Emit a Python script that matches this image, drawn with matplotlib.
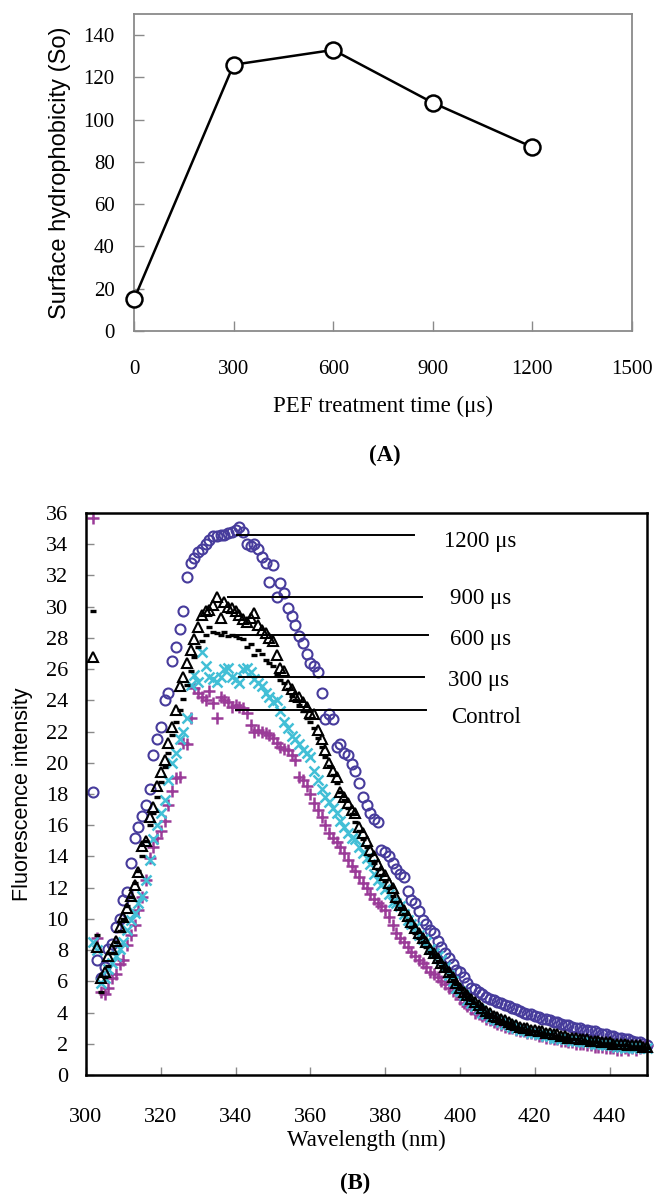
import numpy as np
import matplotlib
matplotlib.use("Agg")
import matplotlib.pyplot as plt

SERIF = "Liberation Serif"
SANS = "Liberation Sans"

# (A) surface hydrophobicity vs PEF treatment time
pef_time = [0, 300, 600, 900, 1200]
so_values = [15, 126, 133, 108, 87]

# (B) fluorescence spectra, one reading per nm from 302 to 450 nm
wavelength = np.arange(302, 451)

f_1200 = [18.1, 7.4, 6.2, 6.9, 8.1, 8.4, 9.5, 10.0, 11.2, 11.7,
          13.6, 15.2, 15.9, 16.6, 17.3, 18.3, 20.5, 21.5, 22.3, 24.0,
          24.5, 26.5, 27.4, 28.6, 29.7, 31.9, 32.8, 33.1, 33.5, 33.7,
          34.0, 34.3, 34.5, 34.5, 34.6, 34.6, 34.7, 34.8, 34.9, 35.1,
          34.8, 34.0, 33.9, 34.0, 33.7, 33.2, 32.8, 31.6, 32.7, 30.6,
          31.5, 30.9, 29.9, 29.4, 28.8, 28.1, 27.7, 27.0, 26.4, 26.2,
          25.8, 24.5, 22.8, 23.1, 22.8, 21.0, 21.2, 20.6, 20.5, 19.9,
          19.5, 18.7, 17.8, 17.3, 16.8, 16.4, 16.2, 14.4, 14.3, 14.0,
          13.6, 13.2, 12.9, 12.7, 11.8, 11.2, 11.0, 10.5, 9.9, 9.7,
          9.3, 9.1, 8.6, 8.2, 7.8, 7.5, 7.1, 6.7, 6.6, 6.3,
          5.9, 5.6, 5.5, 5.3, 5.2, 5.0, 4.9, 4.8, 4.7, 4.6,
          4.5, 4.4, 4.3, 4.2, 4.1, 4.0, 3.9, 3.9, 3.8, 3.7,
          3.6, 3.6, 3.5, 3.4, 3.4, 3.3, 3.2, 3.2, 3.1, 3.0,
          3.0, 2.9, 2.9, 2.8, 2.8, 2.7, 2.6, 2.6, 2.5, 2.5,
          2.4, 2.4, 2.3, 2.3, 2.2, 2.1, 2.1, 2.0, 1.9]

f_900 = [26.8, 8.2, 6.2, 6.6, 7.6, 8.1, 8.6, 9.5, 10.1, 10.7,
         11.5, 12.2, 13.0, 14.7, 15.0, 16.5, 17.2, 18.5, 19.4, 20.2,
         21.3, 22.3, 23.4, 24.9, 25.5, 26.4, 27.2, 27.9, 28.7, 29.5,
         29.7, 29.8, 30.1, 30.6, 29.3, 30.3, 30.0, 29.9, 29.7, 29.5,
         29.2, 29.0, 29.3, 29.6, 28.8, 28.5, 28.3, 28.0, 27.8, 26.9,
         26.1, 25.9, 25.0, 24.7, 24.3, 24.2, 23.9, 23.6, 23.2, 23.1,
         22.1, 21.5, 20.8, 20.0, 19.5, 19.1, 18.1, 17.8, 17.4, 17.0,
         16.8, 15.9, 15.5, 15.0, 14.4, 14.0, 13.5, 13.1, 12.8, 12.3,
         12.0, 11.4, 10.9, 10.6, 10.2, 9.8, 9.4, 9.1, 8.8, 8.5,
         8.1, 7.8, 7.5, 7.2, 6.9, 6.6, 6.3, 5.9, 5.6, 5.3,
         5.1, 4.9, 4.7, 4.5, 4.3, 4.1, 4.0, 3.8, 3.7, 3.6,
         3.5, 3.4, 3.3, 3.2, 3.1, 3.0, 3.0, 2.9, 2.9, 2.8,
         2.8, 2.7, 2.7, 2.6, 2.6, 2.5, 2.5, 2.4, 2.4, 2.4,
         2.3, 2.3, 2.3, 2.2, 2.2, 2.2, 2.1, 2.1, 2.1, 2.0,
         2.0, 2.0, 2.0, 1.9, 1.9, 1.9, 1.9, 1.8, 1.8]

f_600 = [29.7, 9.0, 5.3, 6.3, 7.0, 7.8, 8.5, 9.2, 10.0, 10.8,
         11.4, 12.3, 13.1, 14.0, 15.0, 16.0, 16.8, 17.8, 18.8, 19.7,
         20.6, 21.8, 22.6, 23.4, 24.1, 25.0, 25.9, 26.8, 27.4, 27.8,
         28.2, 28.7, 28.4, 28.3, 28.2, 28.4, 28.1, 28.2, 28.1, 28.0,
         27.9, 27.4, 27.6, 26.9, 27.2, 27.0, 26.6, 26.4, 26.2, 25.6,
         25.3, 25.1, 24.7, 24.3, 24.0, 23.7, 23.3, 22.9, 22.6, 22.2,
         21.6, 21.0, 20.4, 19.8, 19.2, 18.7, 18.1, 17.6, 17.1, 16.7,
         16.2, 15.6, 15.1, 14.6, 14.1, 13.6, 13.2, 12.8, 12.4, 12.0,
         11.5, 11.1, 10.7, 10.3, 9.9, 9.5, 9.1, 8.8, 8.5, 8.2,
         7.9, 7.6, 7.3, 7.0, 6.7, 6.4, 6.1, 5.8, 5.5, 5.2,
         5.0, 4.8, 4.6, 4.4, 4.2, 4.0, 3.9, 3.7, 3.6, 3.5,
         3.4, 3.3, 3.2, 3.1, 3.0, 2.9, 2.9, 2.8, 2.8, 2.7,
         2.7, 2.6, 2.6, 2.5, 2.5, 2.4, 2.4, 2.3, 2.3, 2.3,
         2.2, 2.2, 2.2, 2.1, 2.1, 2.1, 2.0, 2.0, 2.0, 2.0,
         1.9, 1.9, 1.9, 1.9, 1.8, 1.8, 1.8, 1.8, 1.7]

f_300 = [8.5, 8.0, 5.9, 6.2, 6.8, 7.2, 7.6, 8.1, 8.5, 9.3,
         9.9, 10.4, 11.0, 11.5, 12.5, 13.8, 15.1, 16.0, 16.8, 17.6,
         18.9, 20.0, 20.6, 21.5, 22.0, 22.9, 25.0, 25.6, 25.2, 27.1,
         26.2, 25.5, 25.4, 25.2, 25.5, 26.0, 26.1, 25.5, 25.4, 25.1,
         26.0, 26.1, 25.8, 25.4, 25.1, 24.9, 24.5, 24.2, 23.9, 24.0,
         23.3, 22.6, 22.2, 21.7, 21.5, 21.2, 20.8, 20.6, 20.4, 19.5,
         18.9, 18.3, 17.8, 17.5, 17.1, 16.8, 16.3, 15.9, 15.5, 15.2,
         15.1, 14.6, 14.2, 13.9, 13.5, 12.9, 12.5, 12.2, 11.9, 11.6,
         11.1, 11.0, 10.8, 10.3, 9.9, 9.7, 9.5, 9.0, 8.7, 8.5,
         8.1, 7.8, 7.6, 7.4, 6.9, 6.4, 6.0, 5.6, 5.4, 5.1,
         4.8, 4.6, 4.4, 4.2, 4.0, 3.9, 3.7, 3.6, 3.5, 3.4,
         3.3, 3.2, 3.1, 3.0, 2.9, 2.9, 2.8, 2.7, 2.7, 2.6,
         2.6, 2.5, 2.5, 2.4, 2.4, 2.3, 2.3, 2.3, 2.2, 2.2,
         2.2, 2.1, 2.1, 2.1, 2.0, 2.0, 2.0, 1.9, 1.9, 1.9,
         1.8, 1.8, 1.7, 1.8, 1.8, 1.7, 1.7, 1.8, 1.7]

f_control = [35.7, 8.8, 5.3, 5.2, 5.6, 6.2, 6.5, 7.1, 7.4, 8.3,
             9.0, 9.6, 10.6, 11.4, 12.5, 13.9, 14.6, 15.2, 15.6, 16.3,
             17.3, 18.2, 19.0, 19.1, 21.3, 21.2, 22.9, 24.8, 24.5, 24.2,
             24.0, 24.6, 23.8, 22.9, 24.2, 24.0, 23.9, 23.6, 23.7, 23.6,
             23.5, 23.2, 22.4, 22.0, 22.1, 22.0, 21.9, 21.8, 21.6, 21.3,
             21.0, 20.9, 20.8, 20.5, 20.2, 19.1, 18.9, 18.5, 18.0, 17.4,
             17.0, 16.5, 16.0, 15.5, 15.2, 14.9, 14.6, 14.2, 13.8, 13.4,
             13.1, 12.7, 12.3, 12.0, 11.6, 11.3, 11.0, 10.8, 10.6, 10.1,
             9.6, 9.1, 8.8, 8.5, 8.2, 7.9, 7.6, 7.4, 7.2, 6.9,
             6.6, 6.5, 6.3, 6.0, 5.8, 5.6, 5.4, 5.3, 4.9, 4.6,
             4.4, 4.2, 4.0, 3.9, 3.8, 3.6, 3.5, 3.4, 3.3, 3.2,
             3.1, 3.0, 3.0, 2.9, 2.8, 2.8, 2.7, 2.7, 2.6, 2.5,
             2.5, 2.4, 2.4, 2.3, 2.3, 2.2, 2.2, 2.1, 2.1, 2.0,
             2.0, 2.0, 1.9, 1.9, 1.8, 1.8, 1.8, 1.7, 1.7, 1.7,
             1.6, 1.6, 1.7, 1.6, 1.7, 1.6, 1.7, 1.8, 1.9]

# series labels drawn with leader lines
labels = ["1200 \u03bcs", "900 \u03bcs", "600 \u03bcs", "300 \u03bcs", "Control"]
leader_y = [34.6, 30.6, 28.2, 25.5, 23.4]
leader_x0 = [340.3, 338.0, 340.0, 341.0, 340.0]
leader_x1 = [387.7, 389.9, 391.5, 390.4, 391.0]
label_x = [395.7, 397.3, 397.3, 396.8, 397.6]
label_y = [34.2, 30.5, 27.9, 25.3, 22.9]

fig = plt.figure(figsize=(6.56, 11.97), dpi=100)

# ---------- panel A ----------
ax1 = fig.add_axes([0.2043, 0.7235, 0.7591, 0.2648])
ax1.plot(pef_time, so_values, color="black", lw=1.8, marker="o", ms=11.5,
         mfc="white", mec="black", mew=1.8, clip_on=False, zorder=3)
ax1.set_xlim(0, 1500)
ax1.set_ylim(0, 150)
ax1.set_xticks([0, 300, 600, 900, 1200, 1500])
ax1.set_yticks(range(0, 141, 20))
for s in ax1.spines.values():
    s.set_color("#8a8a8a")
    s.set_linewidth(1.3)
ax1.tick_params(direction="in", length=7, width=1.0, color="#8a8a8a",
                labelsize=15, top=False, right=False)
ax1.tick_params(axis="x", pad=21)
ax1.tick_params(axis="y", pad=14)
for lab in ax1.get_xticklabels() + ax1.get_yticklabels():
    lab.set_family(SERIF)
ax1.set_ylabel("Surface hydrophobicity (So)", family=SANS, fontsize=17,
               labelpad=9)
ax1.set_xlabel("PEF treatment time (\u03bcs)", family=SERIF, fontsize=16.5,
               labelpad=12)
fig.text(0.587, 1 - 455 / 1197, "(A)", family=SERIF, fontsize=16.5,
         fontweight="bold", ha="center", va="center")

# ---------- panel B ----------
ax2 = fig.add_axes([0.1311, 0.1019, 0.8552, 0.4695])
ax2.plot(wavelength, f_1200, ls="none", marker="o", ms=7.2, mfc="none",
         mec="#473c9c", mew=1.5, clip_on=False)
ax2.plot(wavelength, f_control, ls="none", marker="+", ms=8,
         mec="#9a3b98", mew=1.8, clip_on=False)
ax2.plot(wavelength, f_300, ls="none", marker="x", ms=7,
         mec="#42bfd6", mew=1.8, clip_on=False)
ax2.plot(wavelength, f_900, ls="none", marker="^", ms=7.5, mfc="none",
         mec="black", mew=1.5, clip_on=False)
ax2.plot(wavelength, f_600, ls="none", marker="_", ms=4,
         mec="black", mew=2.4, clip_on=False)

for lab, ly, x0, x1, tx, ty in zip(labels, leader_y, leader_x0, leader_x1,
                                   label_x, label_y):
    ax2.plot([x0, x1], [ly, ly], color="black", lw=1.4)
    ax2.text(tx, ty, lab, family=SERIF, fontsize=16.5, va="center",
             ha="left")

ax2.set_xlim(300, 450)
ax2.set_ylim(0, 36)
ax2.set_xticks(range(300, 441, 20))
ax2.set_yticks(range(0, 37, 2))
for s in ax2.spines.values():
    s.set_color("black")
    s.set_linewidth(1.8)
ax2.tick_params(direction="in", length=6, width=1.0, color="#8a8a8a",
                labelsize=16, top=False, right=False)
ax2.tick_params(axis="x", pad=24)
ax2.tick_params(axis="y", pad=13)
for lab in ax2.get_xticklabels() + ax2.get_yticklabels():
    lab.set_family(SERIF)
ax2.set_ylabel("Fluorescence intensity", family=SANS, fontsize=15.5,
               labelpad=9)
ax2.set_xlabel("Wavelength (nm)", family=SERIF, fontsize=16.5, labelpad=2)
fig.text(0.541, 1 - 1183 / 1197, "(B)", family=SERIF, fontsize=16.5,
         fontweight="bold", ha="center", va="center")

fig.savefig("out.png", dpi=100)
